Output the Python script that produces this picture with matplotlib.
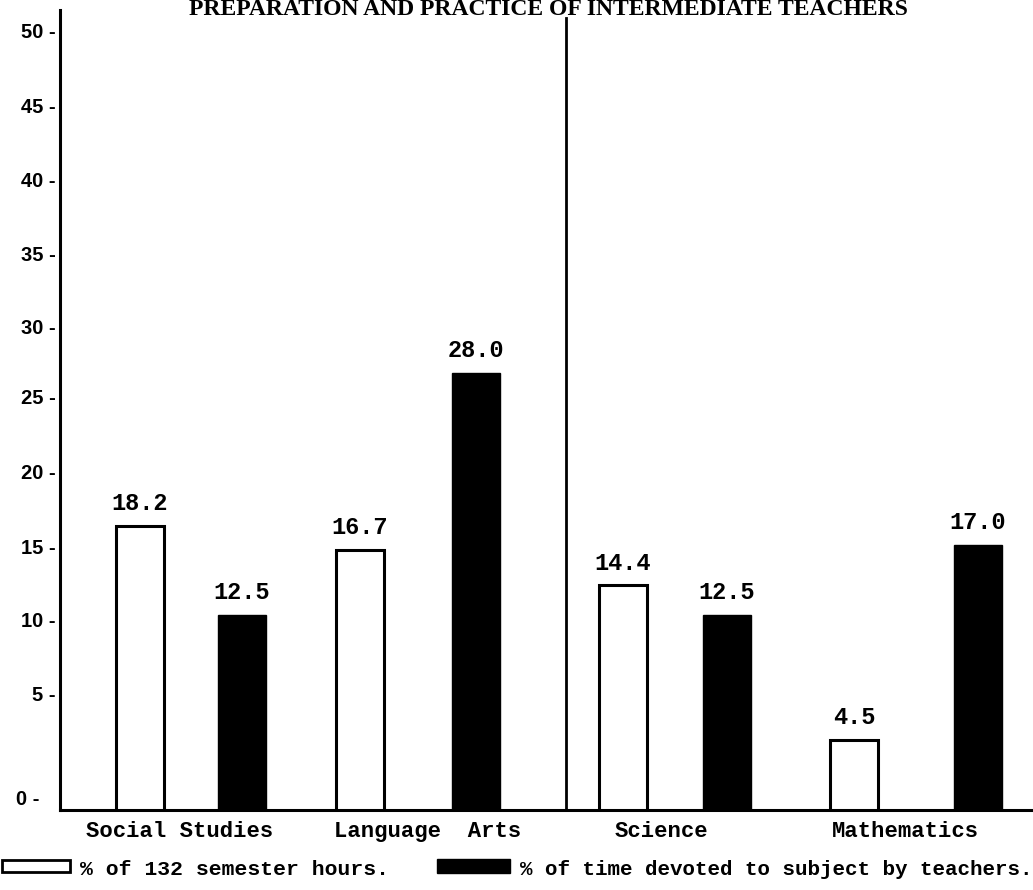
import matplotlib.pyplot as plt
from matplotlib.patches import Rectangle

# ─── DATA ──────────────────────────────────────────────────────────────────
SUBJECTS = ["Social Studies", "Language  Arts", "Science", "Mathematics"]
SEMESTER_PCT = [18.2, 16.7, 14.4, 4.5]      # % of 132 semester hours
TIME_PCT = [12.5, 28.0, 12.5, 17.0]         # % of time devoted by teachers
Y_TICK_LABELS = ["0", "5", "10", "15", "20", "25", "30", "35", "40", "45", "50"]
# the hand-drawn scale puts its labels a little off the true values
Y_TICK_POS = [0.8, 7.5, 12.2, 16.9, 21.7, 26.5, 31.0, 35.7, 40.4, 45.2, 50.0]

TITLE = "PREPARATION AND PRACTICE OF INTERMEDIATE TEACHERS"
LEG_WHITE = "% of 132 semester hours."
LEG_BLACK = "% of time devoted to subject by teachers."

MONO = "Liberation Mono"
W, H = 1033, 890

fig = plt.figure(figsize=(W / 100, H / 100), dpi=100)
ax = fig.add_axes([60 / W, 80 / H, 1 - 60 / W, 800 / H])

# x in page pixels so the groups sit where the sheet has them
group_x = [191, 418, 675, 916]
group_off = [51, 58, 52, 62]
label_x = [180, 428, 661, 905]   # typed labels are not quite centred
bw = 48

for gx, go, s, t in zip(group_x, group_off, SEMESTER_PCT, TIME_PCT):
    ax.bar(gx - go, s, width=bw, color="white", edgecolor="black", linewidth=2.2, zorder=3)
    ax.bar(gx + go, t, width=bw, color="black", edgecolor="black", linewidth=1, zorder=3)
    ax.text(gx - go, s + 0.7, f"{s:.1f}", ha="center", va="bottom",
            fontsize=17, family=MONO, fontweight="bold")
    ax.text(gx + go, t + 0.7, f"{t:.1f}", ha="center", va="bottom",
            fontsize=17, family=MONO, fontweight="bold")

# divider between the two halves
ax.plot([566, 566], [0, 50.8], color="black", lw=2, zorder=2)

for side in ["top", "right"]:
    ax.spines[side].set_visible(False)
ax.spines["left"].set_linewidth(2.2)
ax.spines["bottom"].set_linewidth(2.2)

ax.set_xticks(label_x)
ax.set_xticklabels(SUBJECTS, fontsize=16, family=MONO, fontweight="bold")
ax.tick_params(axis="x", length=0, pad=8)

ax.set_yticks(Y_TICK_POS)
ylabels = [f"{lb} -" for lb in Y_TICK_LABELS]
ylabels[0] = "0 -   "
ax.set_yticklabels(ylabels, fontsize=14.5, family="Liberation Sans", fontweight="bold")
ax.tick_params(axis="y", length=0, pad=3)

ax.set_xlim(60, W)
ax.set_ylim(0, 51.3)

fig.text(548 / W, 1 - 15 / H, TITLE, ha="center", va="baseline",
         fontsize=17, family="Liberation Serif", fontweight="bold")

# legend drawn by hand along the bottom edge
fig.patches.append(Rectangle((2 / W, 1 - 872 / H), 68 / W, 12 / H, transform=fig.transFigure,
                             facecolor="white", edgecolor="black", lw=2))
fig.text(80 / W, 1 - 875 / H, LEG_WHITE, ha="left", va="baseline", fontsize=15.4,
         family=MONO, fontweight="bold")
fig.patches.append(Rectangle((437 / W, 1 - 873 / H), 73 / W, 14 / H, transform=fig.transFigure,
                             facecolor="black", edgecolor="black", lw=1))
fig.text(520 / W, 1 - 875 / H, LEG_BLACK, ha="left", va="baseline", fontsize=15,
         family=MONO, fontweight="bold")

fig.savefig("out.png", dpi=100)
